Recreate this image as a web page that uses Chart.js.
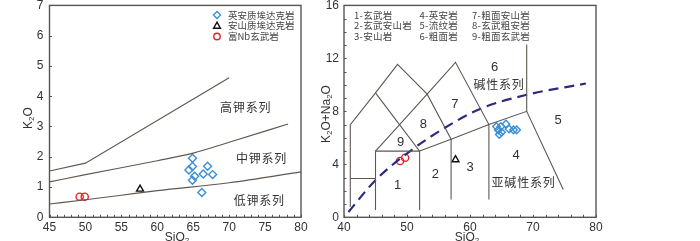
<!DOCTYPE html>
<html><head><meta charset="utf-8">
<script src="https://cdn.jsdelivr.net/npm/chart.js@4/dist/chart.umd.min.js"></script>
<style>
html,body{margin:0;padding:0;background:#fff;width:700px;height:241px;overflow:hidden}
.w{position:absolute;top:0;height:241px}
</style></head><body>
<div class="w" style="left:0;width:320px"><canvas id="c1"></canvas></div>
<div class="w" style="left:320px;width:380px"><canvas id="c2"></canvas></div>
<script>
// ---------- Left chart data (K2O vs SiO2) ----------
const leftXTicks = [45,50,55,60,65,70,75,80];
const leftYTicks = [0,1,2,3,4,5,6,7];
const daciteSiO2 = [64.9,64.9,64.4,65.2,64.9,67.0,66.4,67.7,66.2];
const daciteK2O  = [1.95,1.68,1.56,1.36,1.22,1.69,1.43,1.41,0.82];
const andesiteSiO2 = [57.6];
const andesiteK2O  = [0.93];
const basaltSiO2 = [49.2,49.9];
const basaltK2O  = [0.68,0.68];
const highKSiO2 = [45,50,70];
const highKK2O  = [1.53,1.79,4.61];
const medKSiO2 = [45,50,60,65,70,78.2];
const medKK2O  = [1.17,1.41,1.87,2.12,2.48,3.08];
const lowKSiO2 = [45,50,55,60,70,80];
const lowKK2O  = [0.44,0.58,0.73,0.88,1.14,1.5];
const seriesNames = ['高钾系列','中钾系列','低钾系列'];
const seriesSiO2 = [72.3,74.5,74.2];
const seriesK2O  = [3.62,1.93,0.57];
const legendNames = ['英安质埃达克岩','安山质埃达克岩','富Nb玄武岩'];

// ---------- Right chart data (TAS) ----------
const tasXTicks = [40,50,60,70,80];
const tasYTicks = [0,4,8,12,16];
const tasDaciteSiO2 = [64.2,64.9,64.5,65.0,64.65,65.7,66.2,66.9,67.4];
const tasDaciteAlk  = [6.85,6.85,6.6,6.42,6.25,7.05,6.67,6.6,6.6];
const tasAndesiteSiO2 = [57.7];
const tasAndesiteAlk  = [4.35];
const tasBasaltSiO2 = [48.9,49.7];
const tasBasaltAlk  = [4.25,4.5];
const tasLineA_x = [41,41,45,48.5,53.2,57,57];
const tasLineA_y = [0.8,7,9.4,11.55,9.3,5.9,1.35];
const tasLineB_x = [45,52,52];
const tasLineB_y = [9.4,5,0.55];
const tasLineC_x = [45,45,52];
const tasLineC_y = [0.55,5,5];
const tasLineD_x = [45,49.4,53.2,57.7,63,63];
const tasLineD_y = [5,7.3,9.3,11.7,7,1.35];
const tasLineE_x = [52,57,63,69,74.8];
const tasLineE_y = [5,5.9,7,8,2.1];
const tasLineF_x = [69,69];
const tasLineF_y = [8,13.05];
const tasLineG_x = [41,45];
const tasLineG_y = [2.93,2.93];
const alkCurveSiO2 = [40.7,45,50.5,55.8,61.7,69,78.4];
const alkCurveAlk  = [0.4,2.8,5.0,6.7,8.2,9.25,10.1];
const fieldNames = ['1','2','3','4','5','6','7','8','9','碱性系列','亚碱性系列'];
const fieldSiO2  = [48.5,54.5,60.0,67.3,74.0,63.9,57.6,52.6,49.0,64.6,68.5];
const fieldAlk   = [2.42,3.25,3.8,4.67,7.3,11.3,8.5,6.98,5.67,10.05,2.67];
const rockNames = ['1-玄武岩','2-玄武安山岩','3-安山岩','4-英安岩','5-流纹岩','6-粗面岩','7-粗面安山岩','8-玄武粗安岩','9-粗面玄武岩'];

// ---------- helpers ----------
const LATIN = "'Liberation Sans', Arial, sans-serif";
const CJK = "'Noto Sans CJK SC', sans-serif";
const LINE = '#5e5752';
const BLUE = '#3b8fd6';
const RED = '#e2242a';
const AXIS = '#555';
const pts = (xs, ys) => xs.map((x, i) => ({x, y: ys[i]}));

function lineDS(xs, ys, extra) {
  return Object.assign({type:'scatter', data: pts(xs, ys), showLine: true, pointRadius: 0,
    borderColor: LINE, borderWidth: 1.1, fill: false, tension: 0}, extra || {});
}
function markerDS(xs, ys, style, color, r) {
  return {type:'scatter', data: pts(xs, ys), pointStyle: style, pointRadius: r, pointHoverRadius: r,
    borderColor: color, backgroundColor: 'rgba(255,255,255,0)', pointBorderWidth: 1.4, borderWidth: 1.4};
}
function subText(ctx, parts, x, y, size, rotate) {
  ctx.save();
  const fontN = size + 'px ' + LATIN, fontS = Math.round(size * 0.68) + 'px ' + LATIN;
  let w = 0;
  parts.forEach(p => { ctx.font = p[1] ? fontS : fontN; w += ctx.measureText(p[0]).width; });
  ctx.translate(x, y);
  if (rotate) ctx.rotate(-Math.PI / 2);
  ctx.fillStyle = '#333';
  ctx.textBaseline = 'middle';
  ctx.textAlign = 'left';
  let cx = -w / 2;
  parts.forEach(p => {
    ctx.font = p[1] ? fontS : fontN;
    ctx.fillText(p[0], cx, p[1] ? size * 0.25 : 0);
    cx += ctx.measureText(p[0]).width;
  });
  ctx.restore();
}
function frameAndTicks(chart, xStep, yStep, len) {
  const ctx = chart.ctx, a = chart.chartArea, xs = chart.scales.x, ys = chart.scales.y;
  ctx.save();
  ctx.strokeStyle = AXIS;
  ctx.lineWidth = 1.4;
  ctx.strokeRect(a.left, a.top, a.right - a.left, a.bottom - a.top);
  ctx.lineWidth = 1;
  ctx.beginPath();
  for (let v = xs.min; v <= xs.max + 1e-9; v += xStep) {
    const px = Math.round(xs.getPixelForValue(v)) + 0.5;
    ctx.moveTo(px, a.bottom); ctx.lineTo(px, a.bottom - len);
  }
  for (let v = ys.min; v <= ys.max + 1e-9; v += yStep) {
    const py = Math.round(ys.getPixelForValue(v)) + 0.5;
    ctx.moveTo(a.left, py); ctx.lineTo(a.left + len, py);
  }
  ctx.stroke();
  ctx.restore();
}
function fixScale(size, isX) {
  return function (scale) {
    if (isX) scale.height = size; else scale.width = size;
    scale.paddingTop = 0; scale.paddingBottom = 0; scale.paddingLeft = 0; scale.paddingRight = 0;
  };
}
function scaleOpts(min, max, step, list, fitSize, isX, pad) {
  return {
    type: 'linear', min, max,
    afterBuildTicks: s => { s.ticks = list.map(v => ({value: v})); },
    afterFit: fixScale(fitSize, isX),
    grid: {display: false, drawTicks: false},
    border: {display: false},
    ticks: {stepSize: step, padding: pad, color: '#333', font: {family: LATIN, size: 12}, maxRotation: 0, autoSkip: false},
    title: {display: false}
  };
}
function diamond(ctx, x, y, r) { ctx.beginPath(); ctx.moveTo(x, y - r); ctx.lineTo(x + r, y); ctx.lineTo(x, y + r); ctx.lineTo(x - r, y); ctx.closePath(); ctx.stroke(); }
function triangle(ctx, x, y, r) { ctx.beginPath(); ctx.moveTo(x, y - r); ctx.lineTo(x + r * 0.9, y + r * 0.6); ctx.lineTo(x - r * 0.9, y + r * 0.6); ctx.closePath(); ctx.stroke(); }
function circle(ctx, x, y, r) { ctx.beginPath(); ctx.arc(x, y, r, 0, Math.PI * 2); ctx.stroke(); }

// ---------- Left chart ----------
const leftPlugin = {
  id: 'leftDeco',
  beforeDatasetsDraw(chart) { frameAndTicks(chart, 1, 1, 2.5); },
  afterDraw(chart) {
    const ctx = chart.ctx, xs = chart.scales.x, ys = chart.scales.y;
    ctx.save();
    ctx.fillStyle = '#333';
    ctx.font = '12px ' + CJK;
    ctx.letterSpacing = '0.8px';
    ctx.textAlign = 'center'; ctx.textBaseline = 'middle';
    seriesNames.forEach((t, i) => ctx.fillText(t, xs.getPixelForValue(seriesSiO2[i]), ys.getPixelForValue(seriesK2O[i])));
    ctx.font = '9.5px ' + CJK;
    ctx.letterSpacing = '0px';
    ctx.textAlign = 'left';
    ctx.fillStyle = '#444';
    const lx = 217, ly = [15, 25.5, 36.5];
    ctx.lineWidth = 1.4;
    ctx.strokeStyle = BLUE; diamond(ctx, lx, ly[0], 3.5);
    ctx.strokeStyle = '#111'; triangle(ctx, lx, ly[1] + 0.5, 3.8);
    ctx.strokeStyle = RED; circle(ctx, lx, ly[2], 3.2);
    legendNames.forEach((t, i) => ctx.fillText(t, lx + 11, ly[i]));
    ctx.restore();
    subText(ctx, [['K',0],['2',1],['O',0]], 29, 118, 12, true);
    subText(ctx, [['Si',0],['O',0],['2',1]], 177, 238, 12, false);
  }
};
new Chart(document.getElementById('c1'), {
  type: 'scatter',
  data: {datasets: [
    lineDS(highKSiO2, highKK2O),
    lineDS(medKSiO2, medKK2O, {cubicInterpolationMode: 'monotone'}),
    lineDS(lowKSiO2, lowKK2O, {cubicInterpolationMode: 'monotone'}),
    markerDS(daciteSiO2, daciteK2O, 'rectRot', BLUE, 4),
    markerDS(andesiteSiO2, andesiteK2O, 'triangle', '#111', 4),
    markerDS(basaltSiO2, basaltK2O, 'circle', RED, 3.6)
  ]},
  options: {
    responsive: true, maintainAspectRatio: false, animation: false,
    layout: {padding: {left: 0, right: 19, top: 4, bottom: 0}},
    plugins: {legend: {display: false}, tooltip: {enabled: false}},
    scales: {
      x: scaleOpts(45, 80, 5, leftXTicks, 23.7, true, 3),
      y: scaleOpts(0, 7, 1, leftYTicks, 49.5, false, 6)
    }
  },
  plugins: [leftPlugin]
});

// ---------- Right chart ----------
const rightPlugin = {
  id: 'rightDeco',
  beforeDatasetsDraw(chart) { frameAndTicks(chart, 2, 1, 2.5); },
  afterDraw(chart) {
    const ctx = chart.ctx, xs = chart.scales.x, ys = chart.scales.y;
    ctx.save();
    ctx.fillStyle = '#333';
    ctx.textAlign = 'center'; ctx.textBaseline = 'middle';
    fieldNames.forEach((t, i) => {
      ctx.font = (t.length > 1 ? '12px ' + CJK : '13px ' + LATIN);
      ctx.letterSpacing = t.length > 1 ? '0.8px' : '0px';
      ctx.fillText(t, xs.getPixelForValue(fieldSiO2[i]), ys.getPixelForValue(fieldAlk[i]));
    });
    ctx.font = '9.5px ' + CJK;
    ctx.letterSpacing = '0.3px';
    ctx.textAlign = 'left';
    ctx.fillStyle = '#444';
    const colX = [34, 99.5, 152], rowY = [15, 25.5, 36];
    rockNames.forEach((t, i) => ctx.fillText(t, colX[Math.floor(i / 3)], rowY[i % 3]));
    ctx.restore();
    subText(ctx, [['K',0],['2',1],['O+Na',0],['2',1],['O',0]], 7, 114, 12, true);
    subText(ctx, [['Si',0],['O',0],['2',1]], 147, 238, 12, false);
  }
};
new Chart(document.getElementById('c2'), {
  type: 'scatter',
  data: {datasets: [
    lineDS(tasLineA_x, tasLineA_y),
    lineDS(tasLineB_x, tasLineB_y),
    lineDS(tasLineC_x, tasLineC_y),
    lineDS(tasLineD_x, tasLineD_y),
    lineDS(tasLineE_x, tasLineE_y),
    lineDS(tasLineF_x, tasLineF_y),
    lineDS(tasLineG_x, tasLineG_y),
    lineDS(alkCurveSiO2, alkCurveAlk, {borderColor: '#2c2a7e', borderWidth: 2.2, borderDash: [10, 6], cubicInterpolationMode: 'monotone'}),
    markerDS(tasDaciteSiO2, tasDaciteAlk, 'rectRot', BLUE, 3.8),
    markerDS(tasAndesiteSiO2, tasAndesiteAlk, 'triangle', '#111', 4),
    markerDS(tasBasaltSiO2, tasBasaltAlk, 'circle', RED, 3.6)
  ]},
  options: {
    responsive: true, maintainAspectRatio: false, animation: false,
    layout: {padding: {left: 0, right: 104, top: 4.5, bottom: 0}},
    plugins: {legend: {display: false}, tooltip: {enabled: false}},
    scales: {
      x: scaleOpts(40, 80, 10, tasXTicks, 23.7, true, 3),
      y: scaleOpts(0, 16, 4, tasYTicks, 24, false, 5)
    }
  },
  plugins: [rightPlugin]
});
</script>
</body></html>
